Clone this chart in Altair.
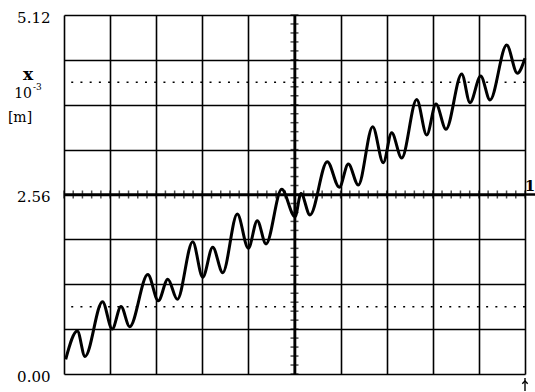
import altair as alt
import numpy as np
import pandas as pd

# Trace samples: horizontal position in screen divisions (0..10), displacement x in 10^-3 m
t_div = [0.037, 0.289, 0.456, 0.835, 1.046, 1.236, 1.425, 1.818, 2.046, 2.252,
         2.458, 2.792, 3.009, 3.226, 3.443, 3.759, 3.998, 4.193, 4.382, 4.722,
         5.011, 5.141, 5.336, 5.711, 5.972, 6.167, 6.384, 6.696, 6.926, 7.108,
         7.325, 7.651, 7.868, 8.069, 8.286, 8.627, 8.807, 9.039, 9.241, 9.603,
         9.833, 10.0]
x_mm = [0.210, 0.613, 0.250, 1.031, 0.642, 0.963, 0.675, 1.419, 1.045, 1.351,
        1.065, 1.887, 1.379, 1.807, 1.445, 2.282, 1.793, 2.186, 1.854, 2.634,
        2.243, 2.574, 2.268, 3.028, 2.663, 2.995, 2.695, 3.527, 3.014, 3.441,
        3.081, 3.915, 3.409, 3.851, 3.490, 4.279, 3.869, 4.250, 3.908, 4.692,
        4.289, 4.502]

# Screen graticule
x_divisions = list(range(0, 11))
y_divisions = [0.0, 0.64, 1.28, 1.92, 2.56, 3.2, 3.84, 4.48, 5.12]
y_labels = ["0.00", "2.56", "5.12"]
dotted_levels = [0.96, 4.16]
center_x = 5
center_y = 2.56
x_minor = [round(v, 2) for v in np.arange(0, 10.001, 0.2)]
y_minor = [round(v, 3) for v in np.arange(0, 5.121, 0.128)]

W, H = 461, 359
FONT = "DejaVu Serif"

xs = alt.Scale(domain=[0, 10], nice=False, zero=False)
ys = alt.Scale(domain=[0, 5.12], nice=False, zero=False)

trace = pd.DataFrame({"t": t_div, "x": x_mm})

label_expr = ("indexof(" + str(y_labels) + ", format(datum.value, '.2f')) >= 0"
              " ? format(datum.value, '.2f') : ''")

base_grid = alt.Chart(trace).mark_point(opacity=0).encode(
    x=alt.X("t:Q", scale=xs, title=None,
            axis=alt.Axis(values=x_divisions, grid=True, gridColor="black",
                          gridWidth=1.6, gridOpacity=1, labels=False,
                          ticks=False, domain=False)),
    y=alt.Y("x:Q", scale=ys, title=None,
            axis=alt.Axis(values=y_divisions, grid=True, gridColor="black",
                          gridWidth=1.6, gridOpacity=1, ticks=False,
                          domain=False, labelExpr=label_expr,
                          labelFont=FONT, labelFontSize=15,
                          labelColor="black", labelPadding=14,
                          labelBaseline="middle", labelOffset=2)),
)

dotted = alt.Chart(pd.DataFrame({"y": dotted_levels})).mark_rule(
    color="black", strokeWidth=1.5, strokeDash=[2, 7.22]
).encode(y=alt.Y("y:Q", scale=ys))

h_center = alt.Chart(pd.DataFrame({"y": [center_y]})).mark_rule(
    color="black", strokeWidth=2.6
).encode(y=alt.Y("y:Q", scale=ys), x=alt.value(0), x2=alt.value(W + 10))

v_center = alt.Chart(pd.DataFrame({"t": [center_x]})).mark_rule(
    color="black", strokeWidth=2.2
).encode(x=alt.X("t:Q", scale=xs))

h_ticks = alt.Chart(pd.DataFrame({"t": x_minor, "y": [center_y] * len(x_minor)})).mark_tick(
    orient="vertical", color="black", size=8, thickness=1.5
).encode(x=alt.X("t:Q", scale=xs), y=alt.Y("y:Q", scale=ys))

v_ticks = alt.Chart(pd.DataFrame({"t": [center_x] * len(y_minor), "y": y_minor})).mark_tick(
    orient="horizontal", color="black", size=8, thickness=1.5
).encode(x=alt.X("t:Q", scale=xs), y=alt.Y("y:Q", scale=ys))

line = alt.Chart(trace).mark_line(
    interpolate="monotone", color="black", strokeWidth=3
).encode(x=alt.X("t:Q", scale=xs), y=alt.Y("x:Q", scale=ys))

# Trigger marker under the right edge: shaft plus open arrow head
marker = pd.DataFrame({"k": [0]})
marker_shaft = alt.Chart(marker).mark_rule(color="black", strokeWidth=1.4).encode(
    x=alt.value(W), y=alt.value(H + 4), y2=alt.value(H + 17)
)
marker_head = alt.Chart(marker).mark_point(
    shape="M -1 1 L 0 0 L 1 1", filled=False, color="black",
    strokeWidth=1.4, size=30, opacity=1
).encode(x=alt.value(W), y=alt.value(H + 7))


def note(text, x, y, size=15, weight="normal", align="center",
         baseline="middle", font=FONT):
    return alt.Chart(pd.DataFrame({"s": [text]})).mark_text(
        font=font, fontSize=size, fontWeight=weight, color="black",
        align=align, baseline=baseline
    ).encode(text="s:N", x=alt.value(x), y=alt.value(y))


notes = [
    note("x", -36, 60, size=17, weight="bold"),
    note("10", -32, 79, size=14, align="right"),
    note("-3", -31, 72, size=9, align="left"),
    note("[m]", -44, 103, size=14),
    note("1", W + 5, 171, size=15, weight="bold"),
]

chart = alt.layer(
    base_grid, dotted, h_center, v_center, h_ticks, v_ticks, line,
    marker_shaft, marker_head, *notes
).properties(
    width=W, height=H,
    autosize=alt.AutoSizeParams(type="none"),
    padding={"left": 64, "top": 15, "right": 10, "bottom": 18},
    background="white",
).configure_view(stroke=None)

chart.save("out.html", embed_options={"renderer": "svg", "actions": False})
